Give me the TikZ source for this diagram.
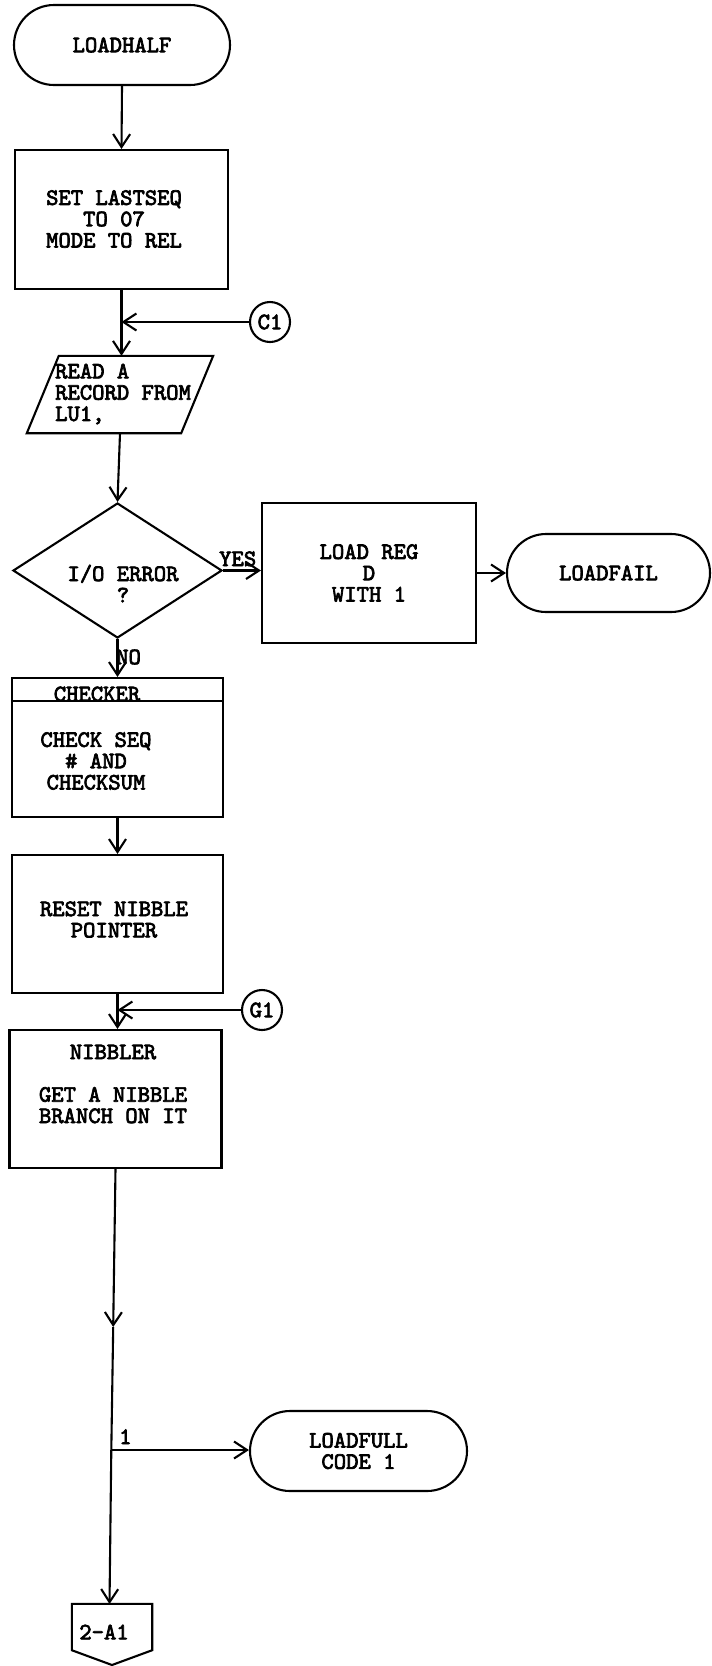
\documentclass[tikz,border=0pt]{standalone}
\usepackage{fontspec}
\newfontfamily\cour{lmmono10-regular.otf}[FakeBold=3]
\usetikzlibrary{arrows.meta,shapes.geometric,shapes.misc,calc}
\begin{document}
\begin{tikzpicture}[x=1pt,y=-1pt,
  every node/.style={font=\cour\fontsize{23.5}{21.3}\selectfont, inner sep=0pt, align=center},
  lw/.style={line width=2.1pt},
  arr/.style={lw,-{Straight Barb[length=13pt,width=17pt,line width=2.1pt]}},
  term/.style={draw,lw,rounded rectangle,minimum height=80pt},
  proc/.style={draw,lw,rectangle},
  conn/.style={draw,lw,circle,minimum size=40pt},
]
\useasboundingbox (0,0) rectangle (712,1666);
\fill[white] (0,0) rectangle (712,1666);

% start
\node[term,minimum width=216pt] (lh) at (122,45) {LOADHALF};
\node[proc,minimum width=213pt,minimum height=139pt] (set) at (121.5,219.5) {};
\node (sett) at (114,219) {SET LASTSEQ\\TO 07\\MODE TO REL};
\draw[arr] (lh.south) -- (set.north);

% C1 connector and read
\node[conn] (c1) at (270,322) {C1};
\coordinate (j1) at (121.5,322);
\node[minimum width=186pt,minimum height=77pt] (rd) at (120,394.5) {};
\draw[lw] ($(rd.north west)+(32,0)$) -- (rd.north east) -- ($(rd.south east)+(-32,0)$) -- (rd.south west) -- cycle;
\node[anchor=west,align=left] (rdt) at (55,394) {READ A\\RECORD FROM\\LU1,};
\draw[lw] (set.south) -- (j1);
\draw[arr] (c1.west) -- (j1);
\draw[arr] (j1) -- (j1 |- rd.north);

% decision
\node[draw,lw,diamond,minimum width=209pt,minimum height=135pt] (dec) at (117.5,570.5) {};
\node (dect) at (123,583.5) {I/O ERROR\\?};
\draw[arr] (rd.south) -- (dec.north);
\node[anchor=base west] (yes) at (219,566) {YES};
\node[proc,minimum width=214pt,minimum height=140pt] (lr) at (369,573) {LOAD REG\\D\\WITH 1};
\node[term,minimum width=203pt,minimum height=78pt] (lf) at (608.5,573) {LOADFAIL};
\draw[arr] (dec.east) -- (dec.east -| lr.west);
\draw[arr] (lr.east) -- (lr.east -| lf.west);

% checker
\node[anchor=west] (no) at (116,657) {NO};
\node[proc,minimum width=211pt,minimum height=139pt] (ck) at (117.5,747.5) {};
\node (ckt) at (97,694) {CHECKER};
\draw[lw] ($(ck.north west)+(0,24)$) -- ($(ck.north east)+(0,24)$);
\node (ckb) at (96,761) {CHECK SEQ\\\# AND\\CHECKSUM};
\draw[arr] (dec.south) -- (ck.north);

% reset
\node[proc,minimum width=211pt,minimum height=138pt] (rs) at (117.5,924) {};
\node (rst) at (114,919.5) {RESET NIBBLE\\POINTER};
\draw[arr] (ck.south) -- (rs.north);

% G1 and nibbler
\node[conn] (g1) at (262,1010) {G1};
\coordinate (j2) at (117.5,1010);
\node[proc,minimum width=212pt,minimum height=138pt] (nb) at (115.5,1099) {};
\node (nbt) at (113,1084) {NIBBLER\\[21.3pt]GET A NIBBLE\\BRANCH ON IT};
\draw[lw] (rs.south) -- (j2);
\draw[arr] (g1.west) -- (j2);
\draw[arr] (j2) -- (j2 |- nb.north);

% branch
\coordinate (m1) at (113.2,1327);
\coordinate (br) at (111.3,1450);
\draw[arr] (nb.south) -- (m1);
\draw[lw] (m1) -- (br);
\node[term,minimum width=217pt] (lfu) at (358.5,1451) {LOADFULL\\CODE 1};
\draw[arr] (br) -- (br -| lfu.west);
\node[anchor=base west] (one) at (119,1444) {1};

% off-page connector
\node[minimum width=80pt,minimum height=46pt] (op) at (112,1627) {};
\draw[lw] (op.north west) -- (op.north east) -- (op.south east) -- (112,1665) -- (op.south west) -- cycle;
\node (opt) at (104,1632) {2-A1};
\coordinate (opin) at (109.5,1604);
\draw[arr] (br) -- (opin);
\end{tikzpicture}
\end{document}
